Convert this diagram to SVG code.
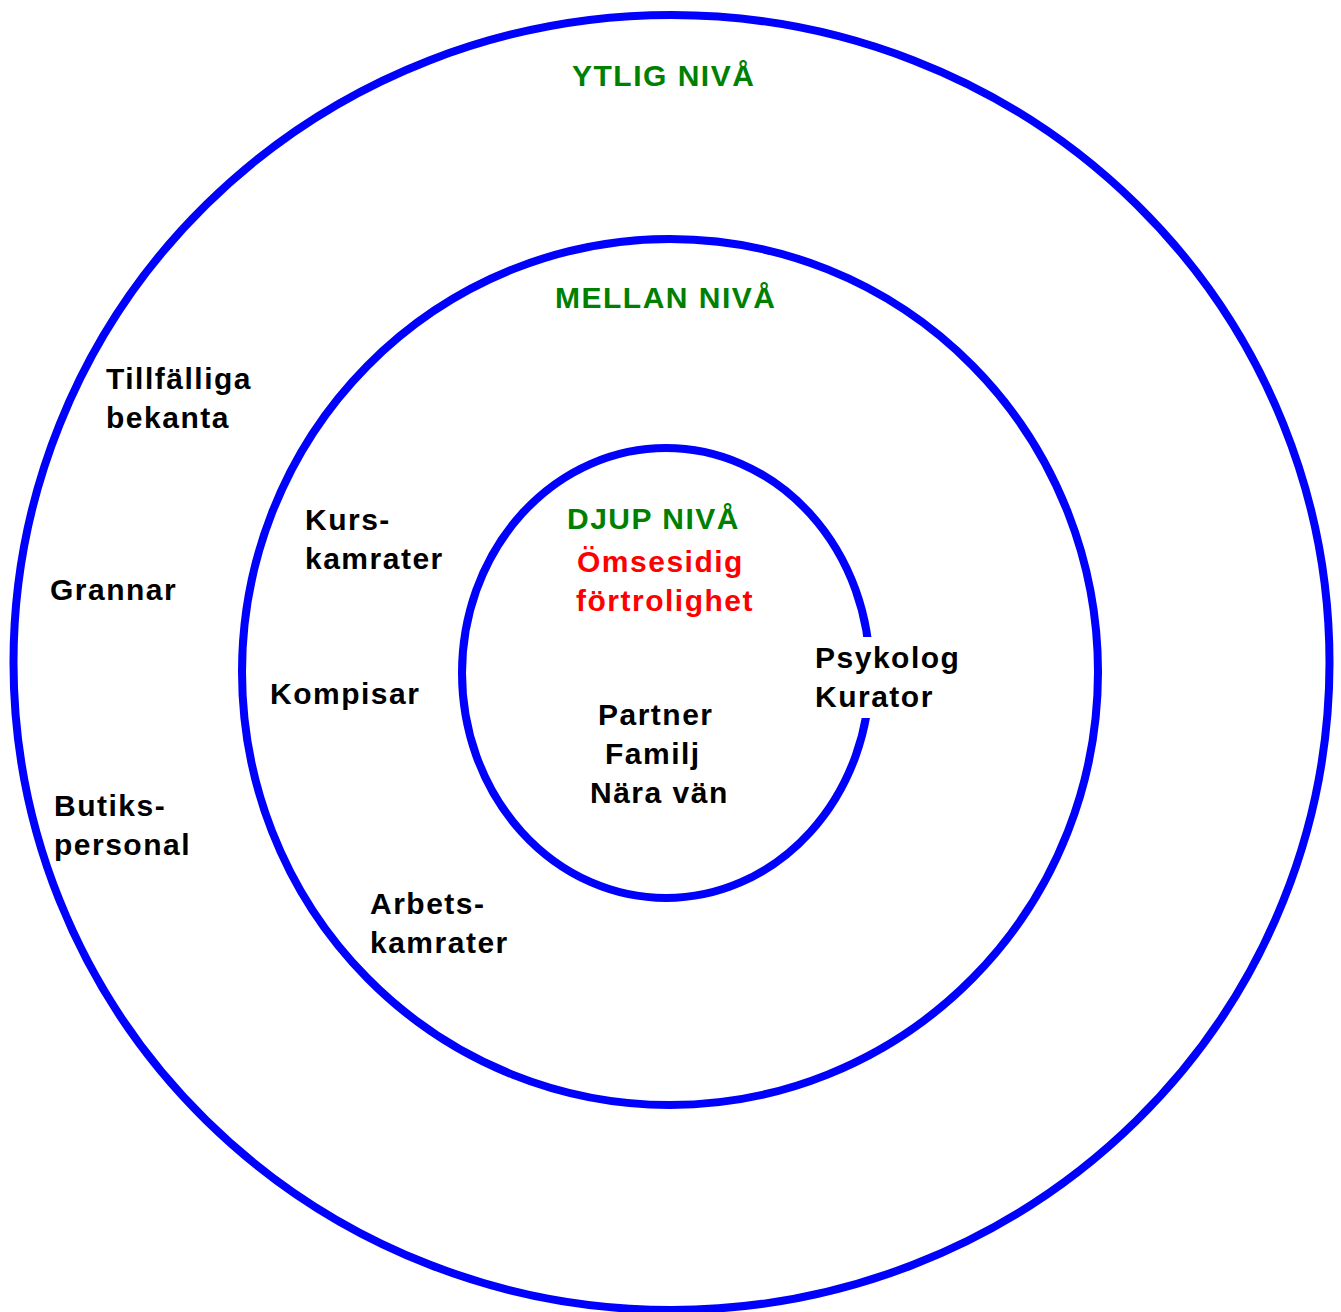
<svg xmlns="http://www.w3.org/2000/svg" width="1341" height="1312" viewBox="0 0 1341 1312">
<style>
.ring{fill:none;stroke:#0000ff;stroke-width:8}
text{font-family:"Liberation Sans",Arial,sans-serif;font-size:30px;font-weight:bold;letter-spacing:1.5px}
.lbl{fill:#000}
.lvl{fill:#008000}
.key{fill:#ff0000}
</style>
<rect width="1341" height="1312" fill="#fff"/>
<g id="ring-outer"><ellipse class="ring" cx="671.5" cy="662.5" rx="658" ry="647.5"/></g>
<g id="ring-middle"><ellipse class="ring" cx="670" cy="672" rx="428" ry="433"/></g>
<g id="ring-inner"><ellipse class="ring" cx="666" cy="673" rx="204" ry="225"/></g>
<g id="level-ytlig"><text class="lvl" x="572" y="86">YTLIG NIVÅ</text></g>
<g id="level-mellan"><text class="lvl" x="555" y="308">MELLAN NIVÅ</text></g>
<g id="level-djup">
<text class="lvl" x="567" y="529">DJUP NIVÅ</text>
<text class="key" x="577" y="572">Ömsesidig</text>
<text class="key" x="576" y="611">förtrolighet</text>
</g>
<g id="tillfalliga"><text class="lbl" x="106" y="389">Tillfälliga</text><text class="lbl" x="106" y="428">bekanta</text></g>
<g id="grannar"><text class="lbl" x="50" y="600">Grannar</text></g>
<g id="butikspersonal"><text class="lbl" x="54" y="816">Butiks-</text><text class="lbl" x="54" y="855">personal</text></g>
<g id="kurskamrater"><text class="lbl" x="305" y="530">Kurs-</text><text class="lbl" x="305" y="569">kamrater</text></g>
<g id="kompisar"><text class="lbl" x="270" y="704">Kompisar</text></g>
<g id="arbetskamrater"><text class="lbl" x="370" y="914">Arbets-</text><text class="lbl" x="370" y="953">kamrater</text></g>
<g id="psykolog-kurator">
<rect x="808" y="637" width="160" height="81" fill="#fff"/>
<text class="lbl" x="815" y="668">Psykolog</text>
<text class="lbl" x="815" y="707">Kurator</text>
</g>
<g id="nara">
<text class="lbl" x="598" y="725">Partner</text>
<text class="lbl" x="605" y="764">Familj</text>
<text class="lbl" x="590" y="803">Nära vän</text>
</g>
<g id="connectors"/>
</svg>
